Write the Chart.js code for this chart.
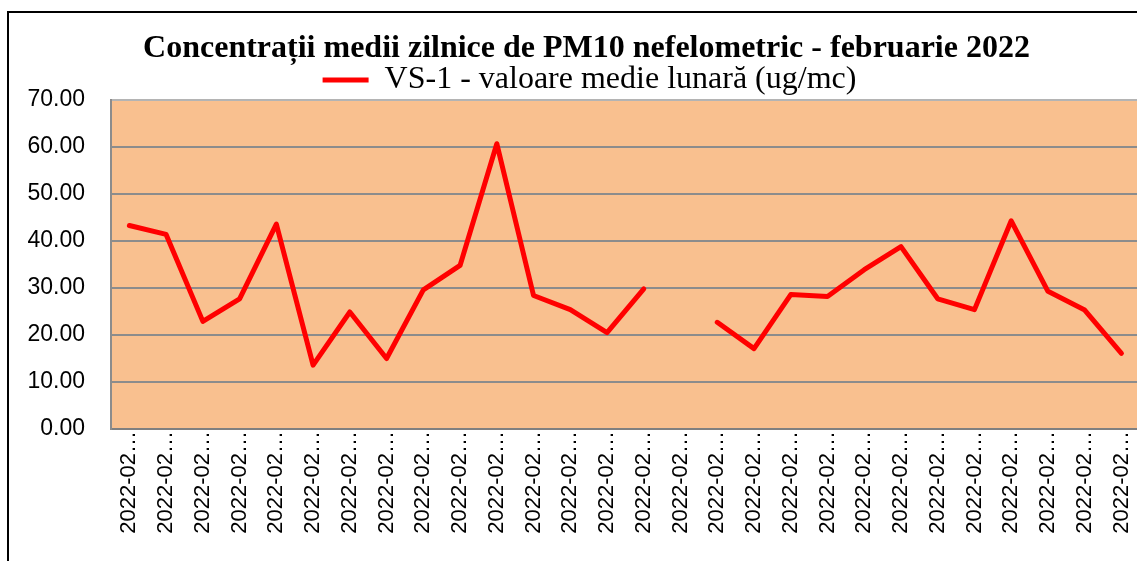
<!DOCTYPE html>
<html>
<head>
<meta charset="utf-8">
<script src="https://cdn.jsdelivr.net/npm/chart.js@4.4.0/dist/chart.umd.min.js"></script>
<style>
  html, body { margin: 0; padding: 0; overflow: hidden; background: #fff; }
  canvas { display: block; }
</style>
</head>
<body>
<canvas id="pmChart" width="1150" height="561"></canvas>
<script>
// zilele lunii februarie 2022
const days = [
  '2022-02-01', '2022-02-02', '2022-02-03', '2022-02-04', '2022-02-05', '2022-02-06', '2022-02-07',
  '2022-02-08', '2022-02-09', '2022-02-10', '2022-02-11', '2022-02-12', '2022-02-13', '2022-02-14',
  '2022-02-15', '2022-02-16', '2022-02-17', '2022-02-18', '2022-02-19', '2022-02-20', '2022-02-21',
  '2022-02-22', '2022-02-23', '2022-02-24', '2022-02-25', '2022-02-26', '2022-02-27', '2022-02-28'
];
// VS-1, ug/mc (16 feb lipsa)
const vs1 = [
  43.3, 41.4, 22.9, 27.7, 43.6, 13.6, 24.9, 15.0, 29.6, 34.8, 60.7, 28.4, 25.4, 20.5,
  29.8, null, 22.7, 17.1, 28.6, 28.2, 33.9, 38.8, 27.7, 25.4, 44.3, 29.3, 25.3, 16.1
];
const yTicks = [0, 10, 20, 30, 40, 50, 60, 70];

const chartTitle = 'Concentrații medii zilnice de PM10 nefelometric - februarie 2022';
const seriesName = 'VS-1 - valoare medie lunară (ug/mc)';

// fundal portocaliu pentru zona graficului + chenarul exterior
const decor = {
  id: 'decor',
  afterLayout(chart) {
    // titlul si legenda: usor la dreapta si mai jos, ca in original
    const t = chart.titleBlock, l = chart.legend;
    t.left += 16; t.right += 16; t.top += 7; t.bottom += 7;
    l.left += 19; l.right += 19; l.top += 6; l.bottom += 6;
  },
  beforeDraw(chart) {
    const { ctx, chartArea: a } = chart;
    ctx.save();
    ctx.fillStyle = '#F9C08F';
    ctx.fillRect(a.left, a.top, a.right - a.left, a.bottom - a.top);
    ctx.strokeStyle = '#000';
    ctx.lineWidth = 2;
    ctx.beginPath();
    ctx.moveTo(8, chart.height);
    ctx.lineTo(8, 12);
    ctx.lineTo(chart.width, 12);
    ctx.stroke();
    ctx.restore();
  }
};

new Chart(document.getElementById('pmChart'), {
  type: 'line',
  data: {
    labels: days,
    datasets: [{
      label: seriesName,
      data: vs1,
      borderColor: '#FF0000',
      backgroundColor: '#FF0000',
      borderWidth: 5,
      borderJoinStyle: 'round',
      borderCapStyle: 'round',
      pointRadius: 0,
      tension: 0,
      spanGaps: false
    }]
  },
  options: {
    responsive: false,
    animation: false,
    devicePixelRatio: 1,
    layout: { padding: { left: 0, right: 9, top: 14, bottom: 0 } },
    plugins: {
      title: {
        display: true,
        text: chartTitle,
        color: '#000',
        font: { family: 'Liberation Serif', size: 32, weight: 'bold', lineHeight: 1.0 },
        padding: { top: 12, bottom: 0 }
      },
      legend: {
        display: true,
        labels: {
          color: '#000',
          font: { family: 'Liberation Serif', size: 32 },
          boxWidth: 46,
          boxHeight: 5,
          padding: 0,
          generateLabels: chart =>
            Chart.defaults.plugins.legend.labels.generateLabels(chart).map(l => ({ ...l, lineWidth: 0 }))
        }
      },
      tooltip: { enabled: false }
    },
    scales: {
      x: {
        offset: true,
        afterFit: s => { s.height = 132; },
        grid: { display: false, drawTicks: false },
        border: { display: true, color: '#808080', width: 2 },
        ticks: {
          autoSkip: false,
          minRotation: 90,
          maxRotation: 90,
          padding: 2,
          color: '#000',
          font: { family: 'Liberation Sans', size: 22 },
          callback: function (v) { return this.getLabelForValue(v).slice(0, 7) + '…'; }
        }
      },
      y: {
        min: yTicks[0],
        max: yTicks[yTicks.length - 1],
        afterFit: s => { s.width = 111; },
        afterBuildTicks: s => { s.ticks = yTicks.map(v => ({ value: v })); },
        grid: {
          drawTicks: false,
          lineWidth: 2,
          color: c => (c.tick && c.tick.value === 70 ? '#B4B4B4' : '#8C8C8C')
        },
        border: { display: true, color: '#8C8C8C', width: 2 },
        ticks: {
          padding: 26,
          color: '#000',
          font: { family: 'Liberation Sans', size: 23 },
          callback: v => v.toFixed(2)
        }
      }
    }
  },
  plugins: [decor]
});
</script>
</body>
</html>
